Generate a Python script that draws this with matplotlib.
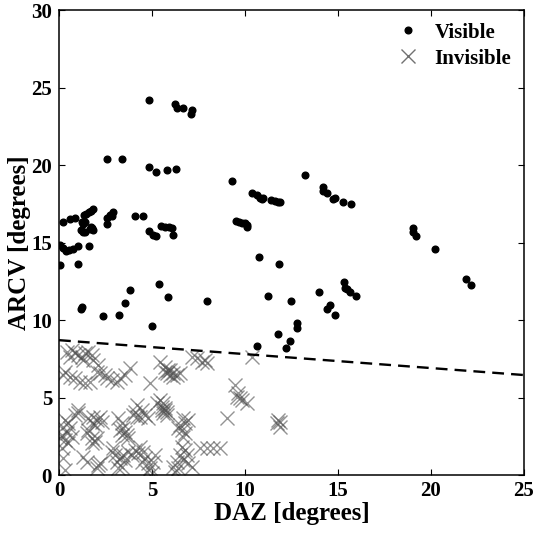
import matplotlib
matplotlib.use("Agg")
import matplotlib.pyplot as plt

vis_x = [0.23, 0.59, 0.84, 1.36, 1.45, 1.60, 1.73, 1.81, 1.23, 1.30, 1.38, 1.17, 1.27, 1.38,
         1.66, 1.77, 1.81, 1.73, 2.56, 3.36, 2.56, 2.76, 2.92, 2.83, 2.56, 4.10, 4.51, 4.86,
         6.25, 6.36, 6.65, 7.13, 7.11, 4.86, 5.22, 5.82, 6.29, 4.86, 5.03, 5.22, 5.48, 5.70,
         5.90, 6.08, 6.11, 9.32, 9.50, 9.68, 9.83, 10.00, 10.09, 10.12, 10.36, 10.66, 10.80,
         10.91, 10.98, 11.39, 11.61, 11.78, 11.87, 13.20, 14.21, 14.18, 14.39, 14.74, 14.83,
         15.28, 15.71, 19.05, 19.01, 19.18, 20.23, 21.88, 22.16, 11.85, 12.47, 12.81, 12.77,
         12.42, 12.23, 13.96, 14.39, 14.57, 14.85, 15.32, 15.39, 15.51, 15.64, 15.96, 0.05,
         0.23, 0.38, 0.55, 0.74, 1.02, 1.63, 0.05, 1.02, 1.17, 1.25, 2.39, 3.21, 3.57, 3.81,
         5.35, 5.88, 5.00, 7.94, 10.77, 11.25, 11.76, 10.64]
vis_y = [16.3, 16.5, 16.6, 16.8, 16.85, 16.97, 17.05, 17.14, 16.3, 16.2, 16.3, 15.8, 15.7, 15.7,
         15.85, 15.95, 15.8, 16.0, 20.4, 20.4, 16.6, 16.8, 16.95, 16.7, 16.2, 16.7, 16.7, 24.2,
         23.95, 23.65, 23.65, 23.55, 23.3, 19.85, 19.55, 19.68, 19.72, 15.74, 15.48, 15.4, 16.06, 16.02,
         15.98, 15.92, 15.47, 18.97, 16.39, 16.34, 16.28, 16.24, 16.11, 15.98, 18.19, 18.06, 17.9,
         17.79, 17.9, 17.72, 17.66, 17.63, 17.61, 19.35, 18.6, 18.34, 18.2, 17.79, 17.9,
         17.63, 17.5, 15.92, 15.7, 15.44, 14.6, 12.63, 12.24, 13.6, 11.25, 9.83, 9.5,
         8.66, 8.19, 11.79, 10.73, 10.99, 10.32, 12.45, 12.06, 11.98, 11.83, 11.57, 14.84,
         14.63, 14.47, 14.52, 14.56, 14.77, 14.77, 13.53, 13.63, 10.71, 10.82, 10.24, 10.3, 11.12, 11.92,
         12.32, 11.46, 9.59, 11.25, 14.04, 11.55, 9.08, 8.32]

inv_x = [0.41, 0.68, 0.86, 1.04, 1.22, 1.40, 1.58, 1.75, 1.85, 0.59, 1.31, 2.11, 2.20, 2.47,
         0.33, 0.23, 0.59, 0.86, 1.13, 1.40, 1.66, 2.03, 2.56, 2.83, 3.10, 3.27, 3.55, 3.81,
         4.89, 5.43, 5.70, 5.87, 5.78, 5.97, 6.14, 6.33, 6.50, 5.70, 5.97, 6.14, 7.13, 7.40,
         7.67, 7.84, 7.94, 10.36,
         5.43, 5.61, 5.70, 5.52, 5.79, 5.25, 9.46, 9.64, 9.73, 9.82, 10.09, 9.55, 9.01, 11.78,
         11.70, 11.87, 11.87,
         1.04, 0.86, 0.33, 0.50, 0.23, 0.59, 0.41, 0.14, 0.68, 0.33, 0.05, 0.50, 0.14, 0.23,
         0.33, 1.31, 1.49, 1.75, 1.94, 1.75, 2.03, 2.11, 2.03, 2.20, 1.58, 1.85, 2.03, 2.20,
         2.30, 1.75, 1.94, 1.58, 1.49, 3.19, 3.37, 3.46, 3.55, 3.64, 3.37, 3.27, 3.72, 4.08,
         4.17, 2.83, 3.01, 3.27, 3.46, 3.55, 3.10, 2.92, 3.72, 3.91, 4.08, 3.19, 3.37, 4.45,
         4.36, 4.62, 4.80, 5.52, 5.70, 5.79, 5.61, 6.68, 6.51, 6.78, 6.95, 6.59, 6.42, 6.78,
         6.68, 4.36, 4.53, 4.26, 4.62, 4.45, 4.80, 4.89, 4.98, 4.71, 5.16, 5.07, 6.59, 6.78,
         6.50, 6.87, 6.68, 6.95, 6.33, 6.14, 6.23, 6.42, 7.13, 7.56, 7.95, 8.29, 8.63, 1.04,
         4.00, 4.17]
inv_y = [7.95, 8.06, 7.85, 7.74, 7.63, 7.85, 7.95, 7.74, 7.42, 7.63, 7.42, 7.1, 6.56, 6.45,
         6.67, 6.45, 6.34, 6.24, 6.02, 5.92, 6.02, 6.67, 6.24, 6.13, 6.02, 6.24, 6.45, 6.88,
         5.92, 7.31, 6.99, 6.77, 6.56, 6.45, 6.56, 6.45, 6.56, 6.67, 6.77, 6.3, 7.63, 7.53,
         7.31, 7.42, 7.21, 7.63,
         4.84, 4.63, 4.30, 4.19, 4.08, 4.63, 5.81, 5.27, 4.95, 4.84, 4.63, 5.05, 3.66, 3.55,
         3.34, 3.12, 3.45,
         4.19, 3.87, 3.55, 3.34, 3.12, 3.01, 2.69, 2.58, 2.47, 2.26, 2.37, 2.05, 1.72, 1.08,
         0.32, 1.18, 0.86, 2.37, 2.15, 2.05, 2.37, 0.65, 0.43, 0.75, 3.66, 3.76, 3.55, 3.76,
         3.44, 3.34, 3.23, 2.90, 2.69, 3.66, 3.34, 3.01, 2.80, 2.58, 2.58, 2.90, 2.37, 4.08,
         3.76, 1.5, 1.29, 1.08, 1.29, 0.97, 0.86, 1.72, 1.50, 1.29, 1.61, 0.43, 0.54, 4.19,
         3.76, 3.87, 3.66, 4.41, 4.19, 3.87, 3.98, 3.66, 3.23, 3.34, 3.55, 2.90, 3.01, 2.69,
         2.47, 1.83, 1.50, 1.40, 1.08, 0.86, 0.75, 0.43, 0.11, 0.21, 1.29, 0.86, 1.83, 1.61,
         1.29, 1.29, 0.97, 0.75, 0.86, 0.54, 0.21, 0.43, 0.54, 1.72, 1.72, 1.75, 1.75, 3.98,
         3.87, 4.52]

line_x = [0, 25]
line_y = [8.7, 6.45]

plt.rcParams['font.family'] = ['Liberation Serif', 'DejaVu Serif']
plt.rcParams['font.weight'] = 'bold'

fig = plt.figure(figsize=(5.35, 5.33), dpi=100)
ax = fig.add_axes([0.1103, 0.1088, 0.8691, 0.8724])

ax.plot(inv_x, inv_y, linestyle='none', marker='x', markersize=10.5, markeredgewidth=1.0,
        color='0.3', alpha=0.6, label='Invisible', zorder=2)
ax.plot(vis_x, vis_y, linestyle='none', marker='o', markersize=4.8, color='black',
        label='Visible', zorder=3)
ax.plot(line_x, line_y, color='black', linewidth=1.7, linestyle=(0, (5, 3)), zorder=4)

ax.set_xlim(0, 25)
ax.set_ylim(0, 30)
ax.set_xticks([0, 5, 10, 15, 20, 25])
ax.set_yticks([0, 5, 10, 15, 20, 25, 30])
ax.tick_params(direction='in', top=True, right=True, length=4, width=0.8,
               labelsize=15)
ax.tick_params(axis='x', pad=4)
ax.tick_params(axis='y', pad=5)
for lab in ax.get_xticklabels() + ax.get_yticklabels():
    lab.set_fontweight('bold')
for s in ax.spines.values():
    s.set_linewidth(1.1)

ax.set_xlabel('DAZ [degrees]', fontsize=18, fontweight='bold', labelpad=1)
ax.set_ylabel('ARCV [degrees]', fontsize=18, fontweight='bold', labelpad=0)

h, l = ax.get_legend_handles_labels()
leg = ax.legend([h[1], h[0]], [l[1], l[0]], loc='upper right', frameon=False,
                prop={'weight': 'bold', 'size': 15}, handlelength=1.2,
                handletextpad=0.7, borderaxespad=0.2, labelspacing=0.3)
leg.legend_handles[1].set_alpha(0.8)

fig.savefig('out.png', dpi=100)
